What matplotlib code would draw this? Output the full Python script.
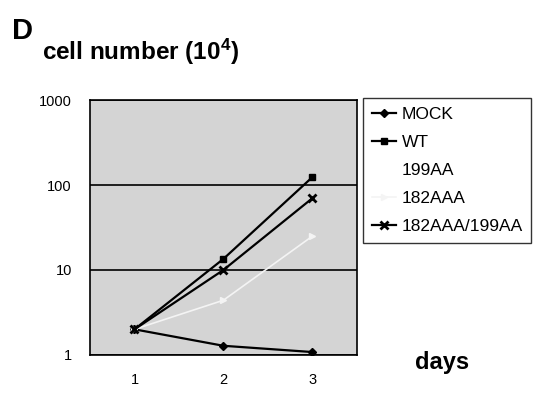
import numpy as np
import matplotlib.pyplot as plt

days = [1, 2, 3]
day_labels = ["1", "2", "3"]
mock = [2.0, 1.28, 1.08]
wt = [2.0, 13.5, 124]
aa199 = [2.0, 4.4, 25]
aaa182 = [2.0, 4.4, 25]
aaa182_aa199 = [2.0, 10, 70]

plt.rcParams['font.family'] = ['Liberation Sans', 'DejaVu Sans']
plt.rcParams['mathtext.default'] = 'regular'

fig = plt.figure(figsize=(5.4, 3.93), dpi=100)
ax = fig.add_axes([0.1667, 0.097, 0.494, 0.648])
ax.set_facecolor("#d4d4d4")

ax.plot(days, mock, color="black", lw=1.6, marker="D", ms=4, label="MOCK")
ax.plot(days, wt, color="black", lw=1.6, marker="s", ms=5, label="WT")
ax.plot(days, aa199, color="white", lw=0, marker="None", alpha=0, label="199AA")
ax.plot(days, aaa182, color="#f4f4f4", lw=1.2, marker=">", ms=5, label="182AAA")
ax.plot(days, aaa182_aa199, color="black", lw=1.6, marker="x", ms=6, mew=2,
        label="182AAA/199AA")

ax.set_yscale("log")
ax.set_ylim(1, 1000)
ax.set_xlim(0.5, 3.5)
ax.set_xticks(days)
ax.set_xticklabels(day_labels)
ax.set_yticks([1, 10, 100, 1000])
ax.set_yticklabels(["1", "10", "100", "1000"])
ax.minorticks_off()
ax.tick_params(length=0, labelsize=10.5, pad=13)
ax.yaxis.grid(True, color="black", lw=1.2)
for s in ax.spines.values():
    s.set_linewidth(1.2)

leg = ax.legend(loc="upper left", bbox_to_anchor=(1.005, 1.03), fontsize=12.5,
                frameon=True, fancybox=False, edgecolor="black",
                handlelength=1.4, handletextpad=0.3, borderpad=0.5,
                labelspacing=0.75, borderaxespad=0.3)
leg.get_frame().set_linewidth(1.0)

fig.text(0.022, 0.9, "D", fontsize=21, fontweight="bold")
fig.text(0.078, 0.848, "cell number (10$^{4}$)", fontsize=17.5, fontweight="bold")
fig.text(0.768, 0.06, "days", fontsize=17, fontweight="bold")

fig.savefig("out.png", dpi=100)
